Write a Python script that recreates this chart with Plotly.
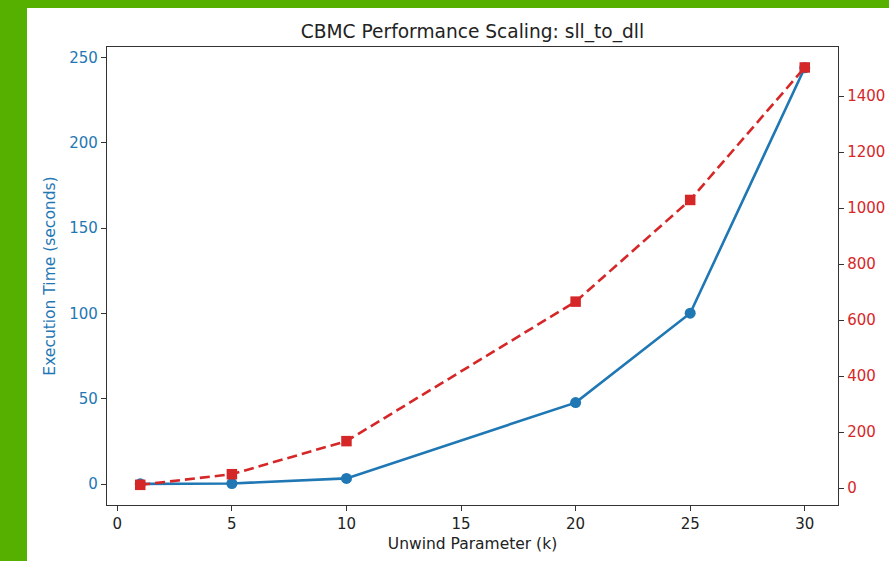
import plotly.graph_objects as go

unwind_k = [1, 5, 10, 20, 25, 30]
exec_time_s = [0.2, 0.4, 3.4, 47.8, 100.2, 244.0]
right_series = [12, 50, 168, 666, 1029, 1502]

x_ticks = [0, 5, 10, 15, 20, 25, 30]
left_ticks = [0, 50, 100, 150, 200, 250]
right_ticks = [0, 200, 400, 600, 800, 1000, 1200, 1400]

BLUE = "#1f77b4"
RED = "#d62728"
FONT = "DejaVu Sans"

fig = go.Figure()
fig.add_trace(go.Scatter(
    x=unwind_k, y=exec_time_s, mode="lines+markers",
    line=dict(color=BLUE, width=2.6),
    marker=dict(symbol="circle", size=11, color=BLUE),
    yaxis="y", showlegend=False,
))
fig.add_trace(go.Scatter(
    x=unwind_k, y=right_series, mode="lines+markers",
    line=dict(color=RED, width=2.6, dash="10px,5px"),
    marker=dict(symbol="square", size=10.5, color=RED),
    yaxis="y2", showlegend=False,
))

L, R, T, B = 107, 838, 47, 505
W, H = 889, 561
pw, ph = R - L, B - T

fig.add_shape(type="rect", xref="paper", yref="paper",
              x0=(27 - L) / pw, x1=(W + 5 - L) / pw,
              y0=(B - H - 5) / ph, y1=(B - 8) / ph,
              fillcolor="white", line=dict(width=0), layer="below")

axis_common = dict(showgrid=False, zeroline=False, showline=True,
                   linecolor="#333333", linewidth=1.3, automargin=False,
                   ticks="outside", ticklen=5, tickwidth=1.2)

fig.update_layout(
    width=W, height=H,
    margin=dict(l=L, r=W - R, t=T, b=H - B),
    paper_bgcolor="#56b000", plot_bgcolor="white",
    font=dict(family=FONT, size=15, color="#222222"),
    title=dict(text="CBMC Performance Scaling: sll_to_dll",
               x=(L + pw / 2) / W, xanchor="center",
               y=1 - 31 / H, yanchor="middle",
               font=dict(family=FONT, size=18.6, color="#222222")),
    xaxis=dict(range=[-0.45, 31.45], tickvals=x_ticks, mirror=True,
               tickcolor="#333333",
               title=dict(text="Unwind Parameter (k)", standoff=5,
                          font=dict(size=15.5, color="#222222")),
               tickfont=dict(size=15, color="#222222"),
               **axis_common),
    yaxis=dict(range=[-12.2, 256.2], tickvals=left_ticks, mirror=True,
               tickcolor="#333333",
               title=dict(text="Execution Time (seconds)", standoff=9,
                          font=dict(size=15.5, color=BLUE)),
               tickfont=dict(size=15, color=BLUE),
               **axis_common),
    yaxis2=dict(range=[-60, 1575], tickvals=right_ticks, overlaying="y",
                side="right", tickcolor="#333333",
                tickfont=dict(size=15, color=RED),
                **axis_common),
)

fig.write_html("out.html",
               config={"displayModeBar": False},
               post_script="document.body.style.margin='0px';"
                           "document.body.style.overflow='hidden';")
